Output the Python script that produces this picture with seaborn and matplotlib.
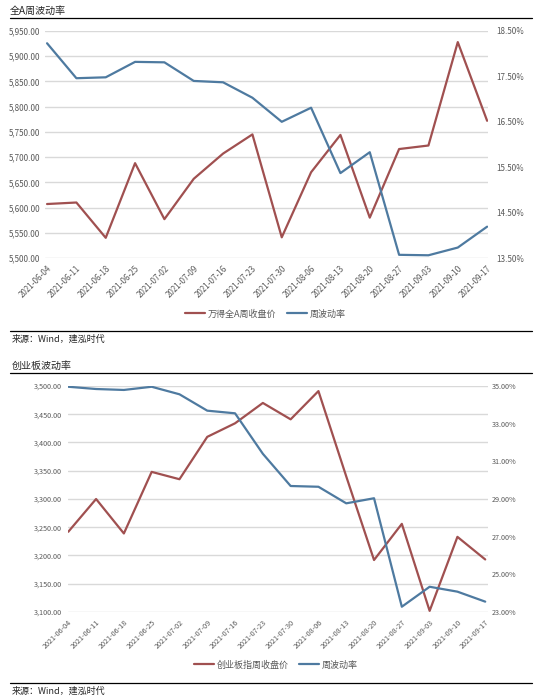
import matplotlib
matplotlib.use('Agg')
import matplotlib.pyplot as plt
from matplotlib.lines import Line2D
from matplotlib.ticker import FuncFormatter, MultipleLocator
import seaborn as sns
import pandas as pd
import numpy as np

dates = ['2021-06-04', '2021-06-11', '2021-06-18', '2021-06-25', '2021-07-02', '2021-07-09',
         '2021-07-16', '2021-07-23', '2021-07-30', '2021-08-06', '2021-08-13', '2021-08-20',
         '2021-08-27', '2021-09-03', '2021-09-10', '2021-09-17']

# 万得全A
wind_a_close = [5607, 5610, 5540, 5688, 5577, 5657, 5707, 5745, 5541, 5670, 5744, 5580, 5716, 5723, 5928, 5772]
wind_a_vol = [18.23, 17.46, 17.48, 17.82, 17.81, 17.40, 17.37, 17.03, 16.50, 16.81, 15.37, 15.83,
              13.57, 13.56, 13.73, 14.19]

# 创业板指
gem_close = [3242, 3300, 3239, 3348, 3335, 3410, 3434, 3470, 3441, 3491, 3340, 3192, 3256, 3102, 3233, 3193]
gem_vol = [34.96, 34.84, 34.79, 34.96, 34.56, 33.69, 33.55, 31.40, 29.69, 29.65, 28.77, 29.04,
           23.28, 24.34, 24.08, 23.55]

RED = '#A05050'
BLUE = '#4E7AA0'
GRID = '#D9D9D9'
TXT = '#595959'

sns.set_style('white')
plt.rcParams['font.family'] = ['Noto Sans CJK SC', 'DejaVu Sans']

W, H = 539, 699
fig = plt.figure(figsize=(W / 100, H / 100), dpi=100)


def px(x, y):
    return x / W, 1 - y / H


def hline(y, x0=10, x1=532):
    fig.add_artist(Line2D([x0 / W, x1 / W], [1 - y / H] * 2, color='black', lw=0.9))


def draw_panel(rect, close, vol, close_label, ylim, yvol, vol_step, xlim, fs, lpad, rpad, xpad):
    left, top, right, bottom = rect
    ax = fig.add_axes([left / W, 1 - bottom / H, (right - left) / W, (bottom - top) / H])
    ax2 = ax.twinx()
    df = pd.DataFrame({'x': np.arange(len(dates)), 'close': close, 'vol': vol})
    sns.lineplot(data=df, x='x', y='close', ax=ax, color=RED, lw=1.6, label=close_label, legend=False)
    sns.lineplot(data=df, x='x', y='vol', ax=ax2, color=BLUE, lw=1.6, label='周波动率', legend=False)
    ax.set_xlim(*xlim)
    ax.set_ylim(*ylim)
    ax.yaxis.set_major_locator(MultipleLocator(50))
    ax.yaxis.set_major_formatter(FuncFormatter(lambda v, p: f'{v:,.2f}'))
    ax2.set_ylim(*yvol)
    ax2.set_yticks(np.arange(yvol[0], yvol[1] + 0.01, vol_step))
    ax2.yaxis.set_major_formatter(FuncFormatter(lambda v, p: f'{v:.2f}%'))
    ax.grid(axis='y', color=GRID, lw=1)
    ax.set_axisbelow(True)
    ax.set_xticks(np.arange(len(dates)))
    ax.set_xticklabels(dates, rotation=45, ha='right', rotation_mode='anchor')
    ax.tick_params(axis='x', length=0, pad=xpad, labelsize=fs, labelcolor=TXT)
    ax.tick_params(axis='y', length=0, pad=lpad, labelsize=fs, labelcolor=TXT)
    ax2.tick_params(axis='y', length=0, pad=rpad, labelsize=fs, labelcolor=TXT)
    ax.set_xlabel('')
    ax.set_ylabel('')
    ax2.set_ylabel('')
    for a in (ax, ax2):
        for s in a.spines.values():
            s.set_visible(False)
    return ax, ax2


# top panel
fig.text(*px(10, 11), '全A周波动率', fontsize=7.2, va='center', ha='left')
hline(18)
a1, a2 = draw_panel((45, 31, 488, 258), wind_a_close, wind_a_vol, '万得全A周收盘价',
                    (5500, 5950), (13.5, 18.5), 1, (-0.07, 15.03), 5.8, 3.6, 6.2, 4)
h = a1.get_lines()[:1] + a2.get_lines()[:1]
fig.legend(h, ['万得全A周收盘价', '周波动率'], loc='center', bbox_to_anchor=px(265, 314), ncol=2,
           frameon=False, fontsize=6.5, handlelength=2.2, columnspacing=1.2, handletextpad=0.3,
           labelcolor=TXT)
hline(331)
fig.text(*px(12, 339), '来源：Wind，建泓时代', fontsize=6.5, va='center', ha='left')

# bottom panel
fig.text(*px(12, 366), '创业板波动率', fontsize=7.2, va='center', ha='left')
hline(373)
b1, b2 = draw_panel((68, 386, 488, 612), gem_close, gem_vol, '创业板指周收盘价',
                    (3100, 3500), (23, 35), 2, (-0.01, 15.1), 5.2, 4.3, 3, 4.5)
h = b1.get_lines()[:1] + b2.get_lines()[:1]
fig.legend(h, ['创业板指周收盘价', '周波动率'], loc='center', bbox_to_anchor=px(276, 665), ncol=2,
           frameon=False, fontsize=6.5, handlelength=2.2, columnspacing=1.2, handletextpad=0.3,
           labelcolor=TXT)
hline(683)
fig.text(*px(12, 691), '来源：Wind，建泓时代', fontsize=6.5, va='center', ha='left')

fig.savefig('out.png', dpi=100)
